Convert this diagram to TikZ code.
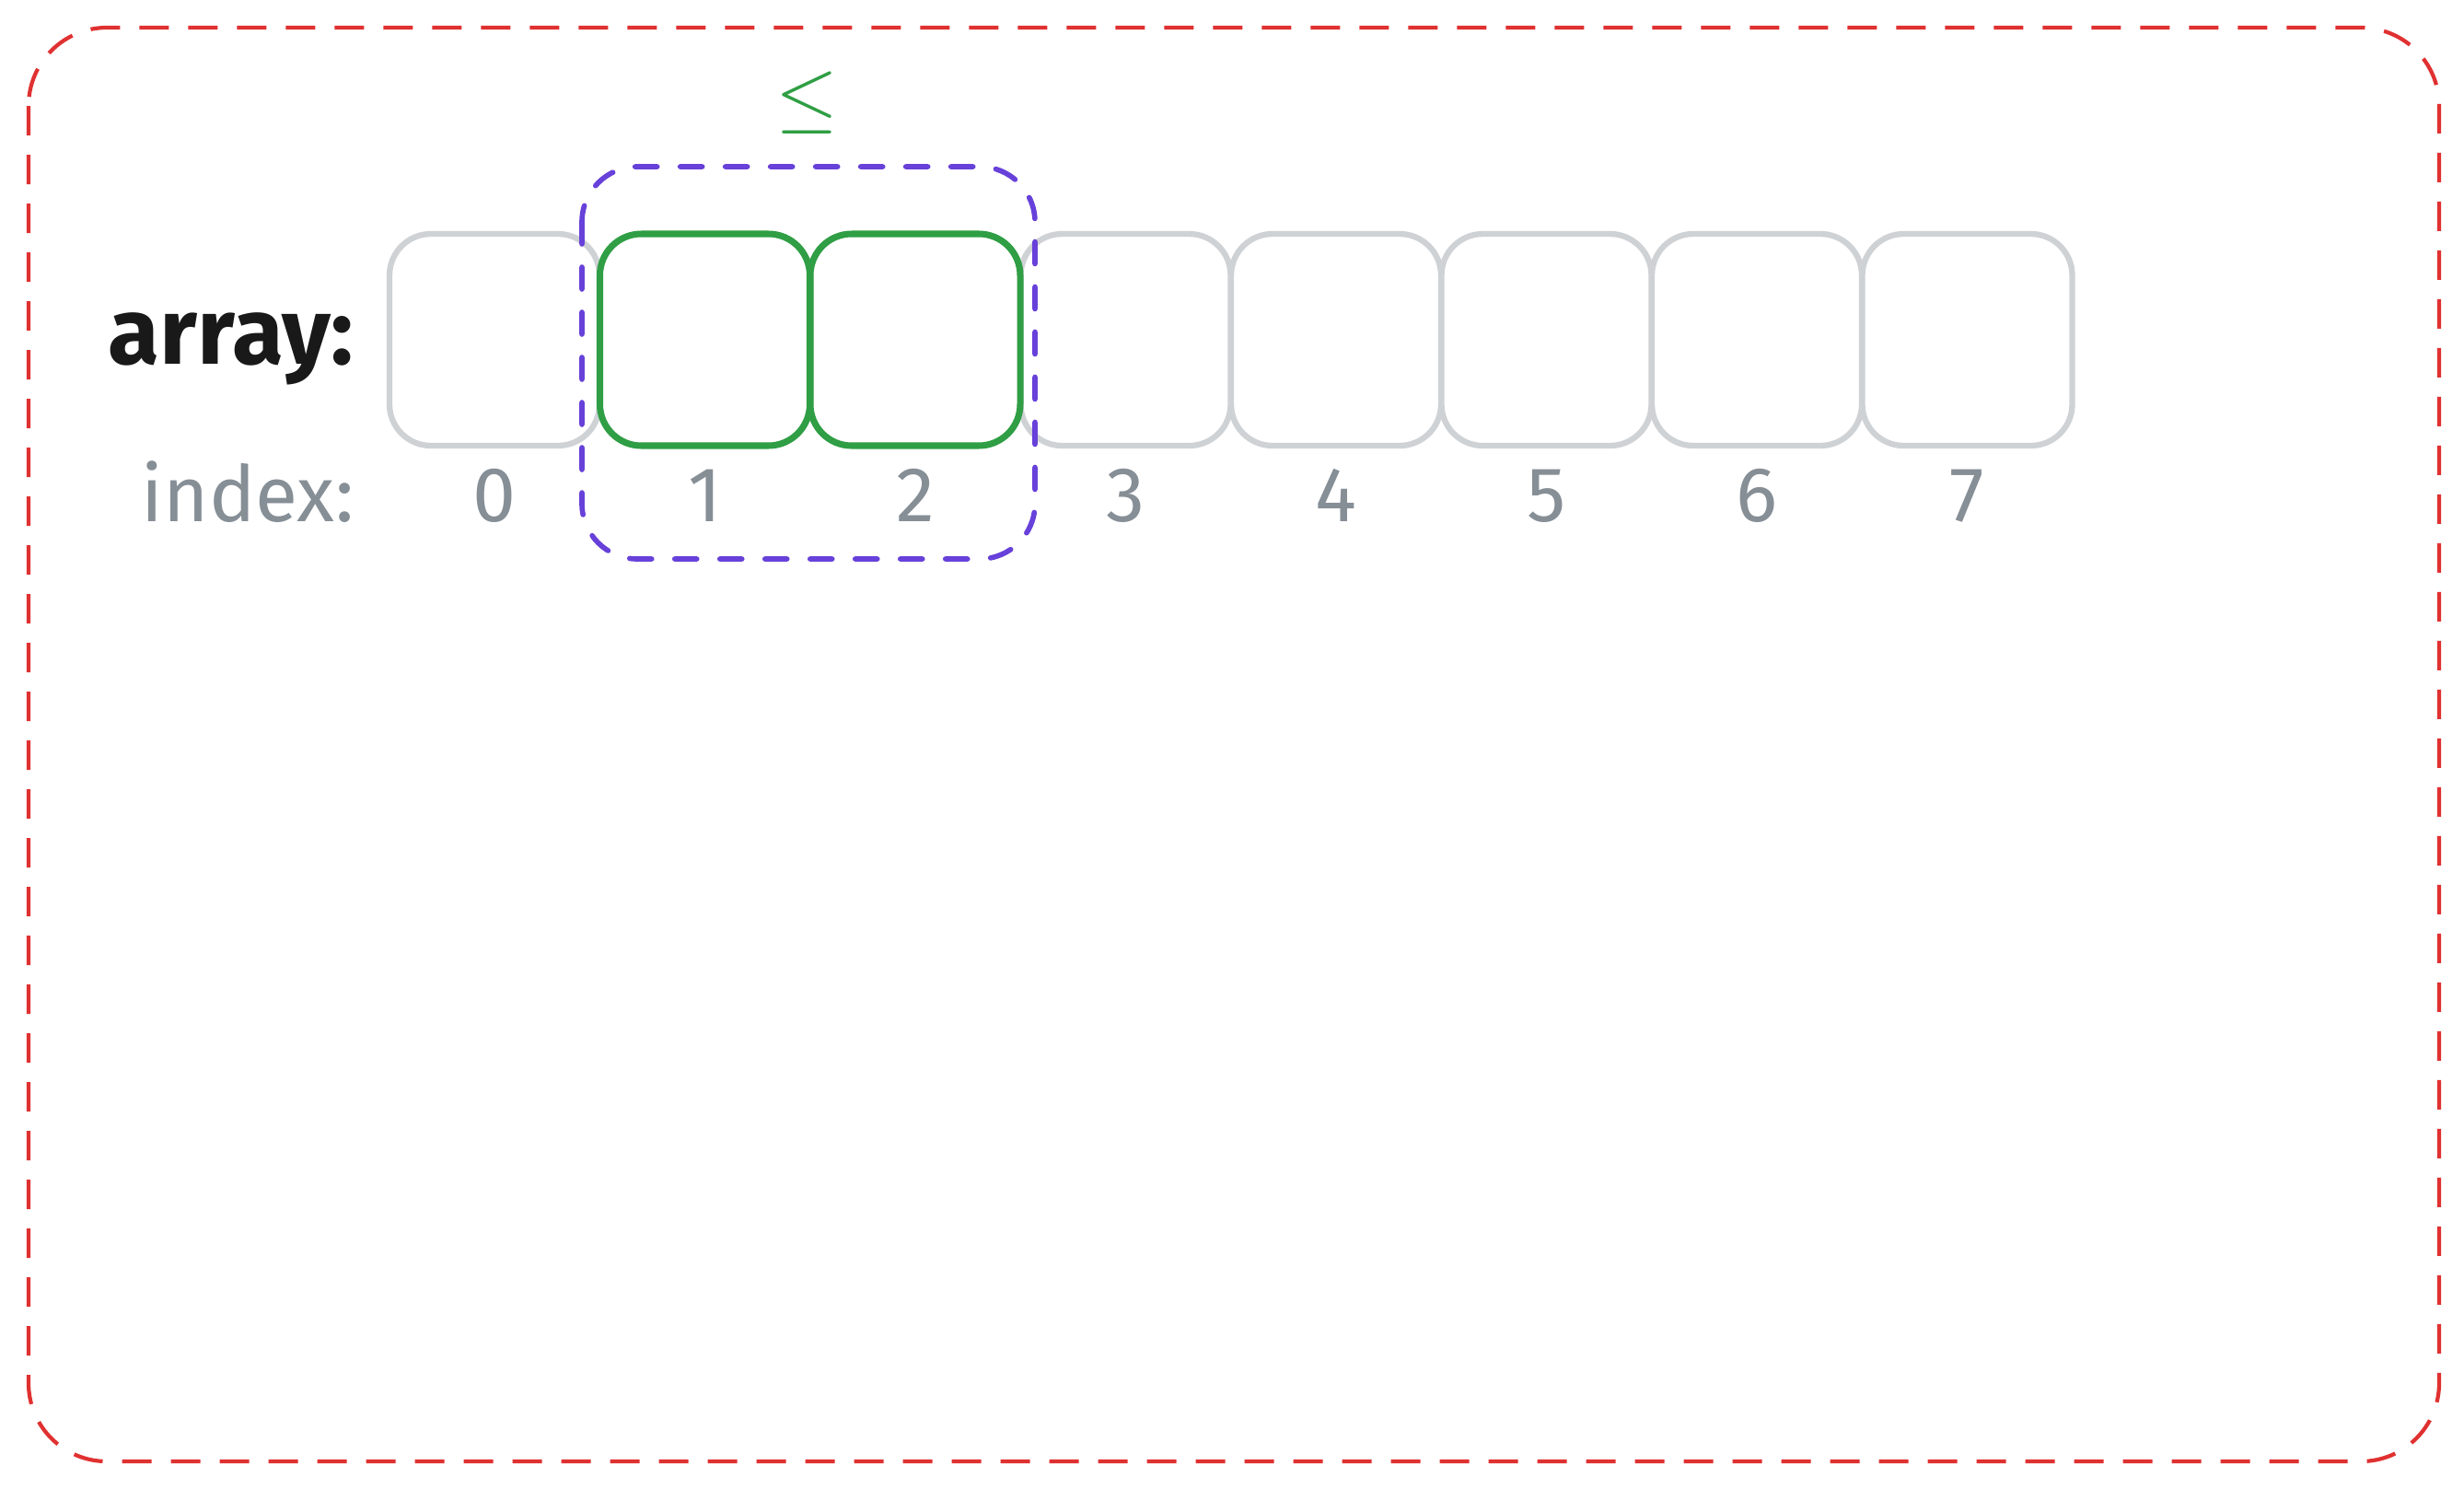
\documentclass[tikz,border=0pt]{standalone}
\usepackage{fontspec}
\setmainfont{Fira Sans}
\usepackage{tikz}
\usetikzlibrary{arrows,positioning}
\definecolor{cellgray}{HTML}{CFD2D5}
\definecolor{okgreen}{HTML}{2F9E44}
\definecolor{idxgray}{HTML}{868E96}
\definecolor{winviolet}{HTML}{6741D9}
\definecolor{framered}{HTML}{E03131}
\tikzstyle{cell}=[rectangle,rounded corners=0.45cm,draw=cellgray,line width=1.8pt,minimum width=2.28cm,minimum height=2.30cm]
\tikzstyle{hit}=[cell,draw=okgreen,line width=2pt]
\tikzstyle{arraylbl}=[inner sep=0pt,text=black!90,font=\fontsize{29}{33}\selectfont\bfseries]
\tikzstyle{idxlbl}=[inner sep=0pt,text=idxgray,font=\fontsize{24}{28}\selectfont]

\begin{document}
\begin{tikzpicture}[node distance=2.285cm]

    \useasboundingbox (0,0) rectangle (26.76,-16.16);

    % outer frame
    \draw[framered, line width=1.2pt, dash pattern=on 0.32cm off 0.21cm, rounded corners=0.85cm]
        (0.31,-0.30) rectangle (26.49,-15.87);

    % cells
    \node[cell] (c0) at (5.37,-3.69) {};
    \node[cell] (c1) [right of=c0] {};
    \node[cell] (c2) [right of=c1] {};
    \node[cell] (c3) [right of=c2] {};
    \node[cell] (c4) [right of=c3] {};
    \node[cell] (c5) [right of=c4] {};
    \node[cell] (c6) [right of=c5] {};
    \node[cell] (c7) [right of=c6] {};
    \node[hit]  (g1) at (c1) {};
    \node[hit]  (g2) at (c2) {};

    % labels
    \node[arraylbl, anchor=base east] (arr) at (3.85,-3.95) {array:};
    \node[idxlbl, anchor=base east] (idx) at (3.85,-5.66) {index:};
    \node[idxlbl, anchor=base] (n0) at (c0 |- idx.base) {0};
    \node[idxlbl, anchor=base] (n1) at (c1 |- idx.base) {1};
    \node[idxlbl, anchor=base] (n2) at (c2 |- idx.base) {2};
    \node[idxlbl, anchor=base] (n3) at (c3 |- idx.base) {3};
    \node[idxlbl, anchor=base] (n4) at (c4 |- idx.base) {4};
    \node[idxlbl, anchor=base] (n5) at (c5 |- idx.base) {5};
    \node[idxlbl, anchor=base] (n6) at (c6 |- idx.base) {6};
    \node[idxlbl, anchor=base] (n7) at (c7 |- idx.base) {7};

    % window
    \draw[winviolet, line width=1.6pt, line cap=round, dash pattern=on 0.24cm off 0.25cm, rounded corners=0.6cm]
        (6.32,-1.81) rectangle (11.24,-6.07);
    \node[text=okgreen, font=\fontsize{28}{32}\selectfont] (le) at (8.76,-1.12) {$\leq$};
\end{tikzpicture}
\end{document}
